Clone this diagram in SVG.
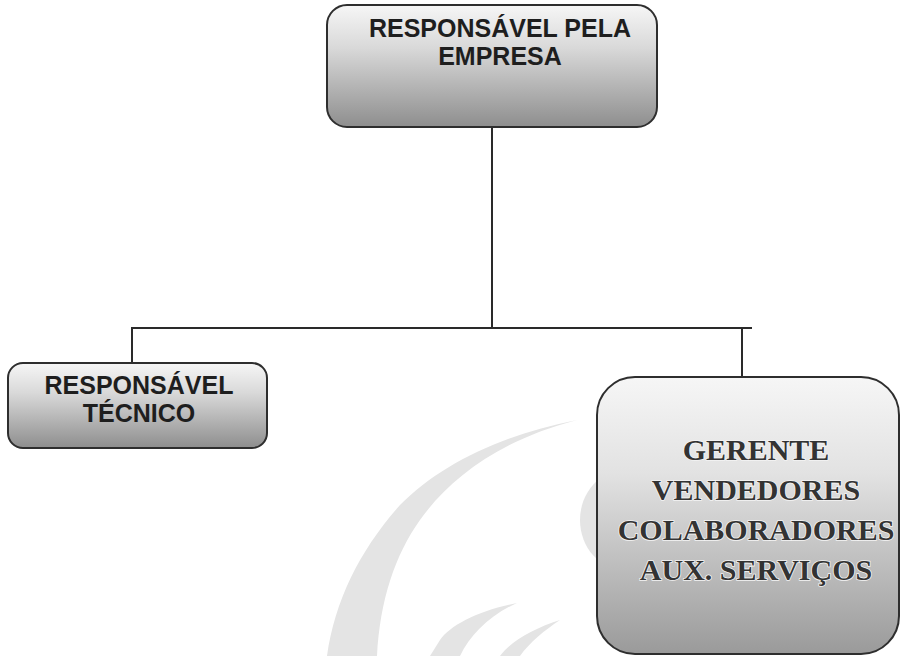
<svg xmlns="http://www.w3.org/2000/svg" width="901" height="656" viewBox="0 0 901 656">
<style>
.box{stroke:#2e2e2e;stroke-width:2}
.sans{font-family:"Liberation Sans",Arial,sans-serif;font-weight:bold;font-size:25px;fill:#1e1e1e;text-anchor:middle}
.serif{font-family:"Liberation Serif","Times New Roman",serif;font-weight:bold;font-size:30px;fill:#333;text-anchor:middle;stroke:#f4f4f4;stroke-width:1.6;paint-order:stroke}
.wm{fill:#e4e4e4}
.conn{stroke:#2a2a2a;stroke-width:2;fill:none}
</style>
<defs>
<linearGradient id="g1" x1="0" y1="0" x2="0" y2="1">
<stop offset="0" stop-color="#f6f6f6"/>
<stop offset="0.35" stop-color="#d9d9d9"/>
<stop offset="1" stop-color="#8e8e8e"/>
</linearGradient>
<linearGradient id="g2" x1="0" y1="0" x2="0" y2="1">
<stop offset="0" stop-color="#f6f6f6"/>
<stop offset="0.35" stop-color="#e2e2e2"/>
<stop offset="1" stop-color="#9a9a9a"/>
</linearGradient>
</defs>
<rect width="901" height="656" fill="#fff"/>
<g id="watermark">
<path class="wm" d="M577,420 C500,435 440,465 400,505 C360,550 335,600 327,656 L377,656 C380,600 395,555 420,520 C450,478 500,440 577,420 Z"/>
<path class="wm" d="M517,603 C480,610 450,625 440,640 L430,656 L460,656 C470,635 490,615 517,603 Z"/>
<path class="wm" d="M560,620 C535,628 512,640 500,656 L520,656 C530,642 545,630 560,620 Z"/>
<ellipse class="wm" cx="625" cy="520" rx="45" ry="50"/>
</g>
<g id="connectors">
<line class="conn" x1="492" y1="127" x2="492" y2="328"/>
<line class="conn" x1="131" y1="328" x2="752" y2="328"/>
<line class="conn" x1="132" y1="327" x2="132" y2="363"/>
<line class="conn" x1="742" y1="327" x2="742" y2="377"/>
</g>
<g id="node-empresa">
<rect class="box" x="327" y="5" width="330" height="122" rx="20" fill="url(#g1)"/>
<text class="sans" x="500" y="37">RESPONSÁVEL PELA</text>
<text class="sans" x="500" y="65">EMPRESA</text>
</g>
<g id="node-tecnico">
<rect class="box" x="8" y="363" width="259" height="85" rx="15" fill="url(#g1)"/>
<text class="sans" x="139" y="394">RESPONSÁVEL</text>
<text class="sans" x="139" y="422">TÉCNICO</text>
</g>
<g id="node-equipe">
<rect class="box" x="597" y="377" width="302" height="277" rx="38" fill="url(#g2)"/>
<text class="serif" x="756" y="460">GERENTE</text>
<text class="serif" x="756" y="500">VENDEDORES</text>
<text class="serif" x="756" y="540">COLABORADORES</text>
<text class="serif" x="756" y="580">AUX. SERVIÇOS</text>
</g>
</svg>
